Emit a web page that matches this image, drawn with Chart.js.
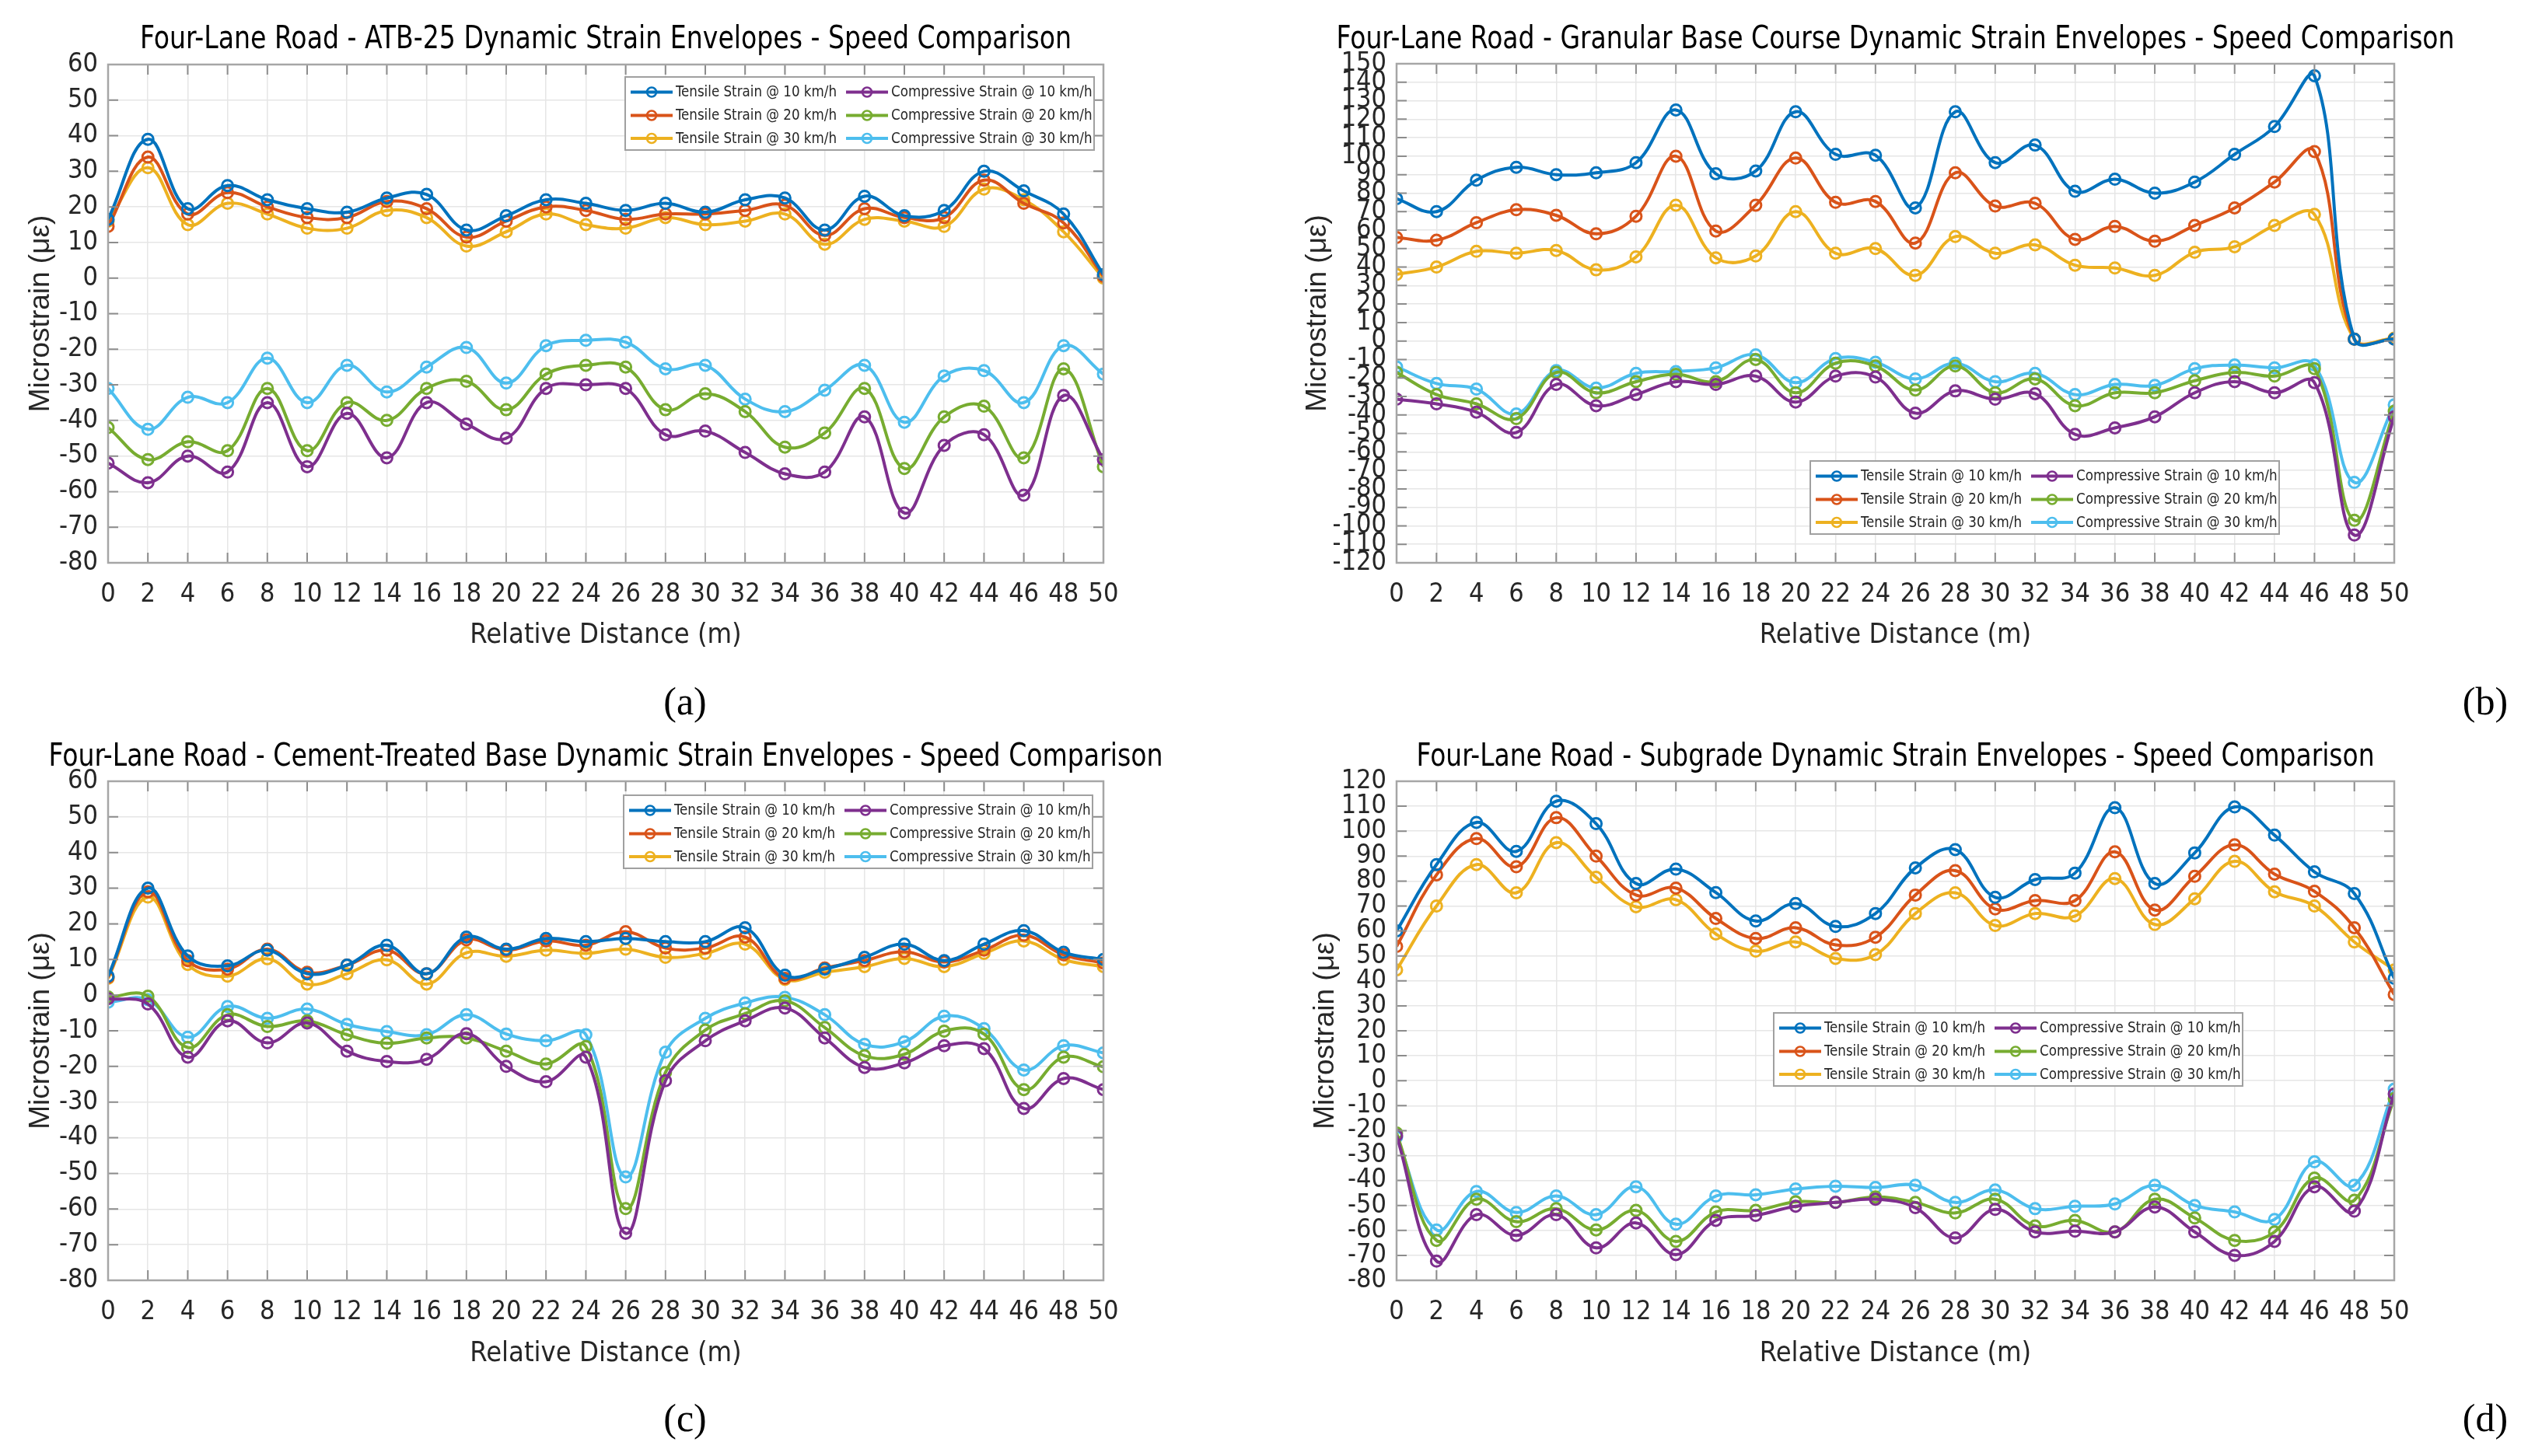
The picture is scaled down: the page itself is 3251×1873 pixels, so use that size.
<!DOCTYPE html>
<html><head><meta charset="utf-8">
<script src="https://cdn.jsdelivr.net/npm/chart.js@4.4.1/dist/chart.umd.min.js"></script>
<style>
html,body{margin:0;padding:0;background:#fff;}
body{width:3251px;height:1873px;position:relative;overflow:hidden;}
canvas{position:absolute;}
.lbl{position:absolute;font-family:"Liberation Serif","DejaVu Serif",serif;font-size:50px;color:#000;transform:translate(-50%,-50%);line-height:1;}
</style></head><body>
<canvas id="ca"></canvas><canvas id="cb"></canvas><canvas id="cc"></canvas><canvas id="cd"></canvas>
<div class="lbl" style="left:881px;top:902px">(a)</div>
<div class="lbl" style="left:3196px;top:902px">(b)</div>
<div class="lbl" style="left:881px;top:1824px">(c)</div>
<div class="lbl" style="left:3196px;top:1824px">(d)</div>
<script>
// ---------- data ----------
const distance = [0,2,4,6,8,10,12,14,16,18,20,22,24,26,28,30,32,34,36,38,40,42,44,46,48,50];
const seriesNames = ['Tensile Strain @ 10 km/h','Tensile Strain @ 20 km/h','Tensile Strain @ 30 km/h',
                     'Compressive Strain @ 10 km/h','Compressive Strain @ 20 km/h','Compressive Strain @ 30 km/h'];
const seriesColors = ['#0072BD','#D95319','#EDB120','#7E2F8E','#77AC30','#4DBEEE'];

const panelTitles = [
  'Four-Lane Road - ATB-25 Dynamic Strain Envelopes - Speed Comparison',
  'Four-Lane Road - Granular Base Course Dynamic Strain Envelopes - Speed Comparison',
  'Four-Lane Road - Cement-Treated Base Dynamic Strain Envelopes - Speed Comparison',
  'Four-Lane Road - Subgrade Dynamic Strain Envelopes - Speed Comparison'];
const xAxisTitle = 'Relative Distance (m)';
const yAxisTitle = 'Microstrain (με)';
const xTickRange = [0, 50, 2];
const aYTickRange = [-80, 60, 10];
const bYTickRange = [-120, 150, 10];
const cYTickRange = [-80, 60, 10];
const dYTickRange = [-80, 120, 10];

// (a) ATB-25
const aTen10 = [16.5,39,19.5,26,22,19.5,18.5,22.5,23.5,13.5,17.5,22,21,19,21,18.5,22,22.5,13.5,23,17.5,19,30,24.5,18,1];
const aTen20 = [14.5,34,18,24,20,17,17,21.5,19.5,11.5,16,20,19,16.5,18,18,19,20.5,12,19.5,17,17,27.5,21,15.5,0.5];
const aTen30 = [16,31,15,21,18,14,14,19,17,9,13,18,15,14,17,15,16,18,9.5,16.5,16,14.5,25,22,13,0];
const aCom10 = [-52,-57.5,-50,-54.5,-35,-53,-38,-50.5,-35,-41,-45,-31,-30,-31,-44,-43,-49,-55,-54.5,-39,-66,-47,-44,-61,-33,-51];
const aCom20 = [-42,-51,-46,-48.5,-31,-48.5,-35,-40,-31,-29,-37,-27,-24.5,-25,-37,-32.5,-37.5,-47.5,-43.5,-31,-53.5,-39,-36,-50.5,-25.5,-53];
const aCom30 = [-31,-42.5,-33.5,-35,-22.5,-35,-24.5,-32,-25,-19.5,-29.5,-19,-17.5,-18,-25.5,-24.5,-34,-37.5,-31.5,-24.5,-40.5,-27.5,-26,-35,-19,-27];

// (b) Granular Base Course
const bTen10 = [77,70,87,94,90,91,96.5,125,90.5,92,124,101,100.5,72,124,96.5,106,81,87.5,80,86,101,116,143.5,1,1];
const bTen20 = [56,54.5,64,71,68,58,67.5,100,59.5,73.5,99,75,75.5,53,91,73,74.5,55,62,54,62.5,72,86,102.5,1,1];
const bTen30 = [36,40,48.5,47.5,49,38.5,45.5,73.5,45,46,70,47.5,50,35.5,56.5,47.5,52,41,39.5,35.5,48,51,62.5,68.5,1,1.5];
const bCom10 = [-31.5,-34,-38.5,-49.5,-23.5,-35,-29,-22,-23.5,-19,-33,-19,-19.5,-39,-27,-31.5,-28.5,-50.5,-47,-41,-28,-22,-28,-22.5,-105,-41];
const bCom20 = [-17,-29,-34,-42,-17,-28,-22,-18,-22,-10,-28,-12,-13.5,-26.5,-13.5,-28,-20.5,-35,-28,-28,-21.5,-17,-19,-15,-97,-38];
const bCom30 = [-14,-23,-26,-39.5,-16,-25.5,-17.5,-16.5,-14.5,-7.5,-22.5,-9.5,-11.5,-20.5,-12,-22,-17.5,-29,-23.5,-24,-15,-13,-14.5,-13,-76.5,-34.5];

// (c) Cement-Treated Base
const cTen10 = [5.3,30,11,8.2,12.6,6,8.4,14,6,16.3,12.9,15.9,15,15.9,15,15,18.9,5.6,7.3,10.6,14.3,9.7,14.3,18.1,12,10];
const cTen20 = [5,29,9.7,7.3,12.9,6.4,8.4,12.6,6,15.5,12.6,15.2,14,17.8,13.2,13.2,16.3,4.7,7.6,9.7,12.2,9.3,12.6,16.8,11.3,9];
const cTen30 = [4.7,27.5,8.6,5.3,10.2,3.1,6,9.9,3.1,11.9,10.9,12.6,11.7,12.9,10.6,11.7,14.3,4.4,6.4,8,10.3,8,11.7,15.2,10,8];
const cCom10 = [-1,-2.5,-17.4,-7.2,-13.4,-7.8,-15.7,-18.6,-18,-10.8,-20,-24.3,-17.4,-66.8,-24,-12.8,-7.2,-3.6,-12,-20.3,-19,-14.2,-15,-31.8,-23.4,-26.5];
const cCom20 = [-0.5,-0.3,-14.7,-5.5,-8.8,-7.2,-11.1,-13.5,-12,-12,-15.7,-19.3,-14.4,-59.9,-21.7,-9.8,-5.2,-1.6,-9.1,-17,-16.6,-10.1,-10.9,-26.5,-17.4,-20.1];
const cCom30 = [-2,-1.3,-11.8,-3.2,-6.5,-3.9,-8.2,-10.2,-11.1,-5.5,-10.9,-12.8,-11.1,-51,-16,-6.5,-2.2,-0.6,-5.5,-13.8,-13.1,-5.9,-9.4,-21,-14.2,-16.2];

// (d) Subgrade
const dTen10 = [60,86.6,103.5,91.9,112,103,79,84.8,75.4,64,71,61.8,67,85.3,92.6,73.5,80.6,83.2,109.4,79,91.3,109.7,98.4,83.7,75,41];
const dTen20 = [53.8,82.5,97,85.7,105.4,90,74.4,77.2,65,57,61.3,54.4,57.5,74.4,84.2,68.8,72.2,72.2,91.7,68.4,81.9,94.5,82.8,75.9,61.3,34.5];
const dTen30 = [44.4,70,86.6,75.3,95.4,81.5,69.7,72.5,58.8,51.9,55.6,49,50.5,67,75.3,62.2,67,66,81,62.6,72.9,87.9,75.7,70,55.6,44.4];
const dCom10 = [-22,-72.3,-53.7,-62,-53.7,-67,-57,-69.7,-56,-54,-50.3,-48.8,-47.5,-50.9,-63,-51.6,-60.6,-60.3,-60.6,-50.6,-60.6,-70,-64.4,-42.5,-52.3,-5.3];
const dCom20 = [-21,-64,-47.5,-56.5,-51.3,-59.8,-52,-64.4,-52.6,-52,-48.5,-48.8,-46.6,-48.8,-53,-47.5,-58.2,-56,-60.6,-47.5,-55,-64,-60.6,-39,-47.9,-7.2];
const dCom30 = [-22.6,-59.8,-44.4,-52.8,-46.2,-53.7,-42.5,-57.5,-46.2,-45.7,-43.4,-42.3,-42.8,-41.9,-48.8,-43.8,-51.3,-50.3,-49.4,-41.9,-50,-52.6,-55.6,-32.5,-41.9,-3.4];

// ---------- layout (positions / styles) ----------
const NARROW = '"Liberation Sans Narrow","Arial Narrow","DejaVu Sans Condensed",sans-serif';
const WIDE = '"Liberation Sans",Arial,sans-serif';
const panels = [
  {id:'ca', left:0,    top:0,   w:1558, h:880, area:{l:139,t:83,r:1419,b:724}, ytitleX:53, titleY:52, titleW:1198, xtitleY:818,
   series:[aTen10,aTen20,aTen30,aCom10,aCom20,aCom30], yr:aYTickRange, leg:{fx:0.5195,fy:0.025}},
  {id:'cb', left:1630, top:0,   w:1615, h:880, area:{l:166,t:82,r:1449,b:724}, ytitleX:65, titleY:52, titleW:1438, xtitleY:818,
   series:[bTen10,bTen20,bTen30,bCom10,bCom20,bCom30], yr:bYTickRange, leg:{fx:0.4146,fy:0.796}},
  {id:'cc', left:0,    top:930, w:1558, h:880, area:{l:139,t:75,r:1419,b:717}, ytitleX:53, titleY:45, titleW:1433, xtitleY:812,
   series:[cTen10,cTen20,cTen30,cCom10,cCom20,cCom30], yr:cYTickRange, leg:{fx:0.518,fy:0.028}},
  {id:'cd', left:1630, top:930, w:1615, h:880, area:{l:166,t:75,r:1449,b:717}, ytitleX:75, titleY:45, titleW:1232, xtitleY:812,
   series:[dTen10,dTen20,dTen30,dCom10,dCom20,dCom30], yr:dYTickRange, leg:{fx:0.378,fy:0.464}}
];

// text drawn condensed to the reference width (MATLAB narrow font look)
function drawFitText(ctx, text, x, y, font, targetW, align){
  ctx.font = font;
  const w = ctx.measureText(text).width;
  const sx = targetW / w;
  ctx.save();
  ctx.translate(x, y);
  ctx.scale(sx, 1);
  ctx.textAlign = align; ctx.textBaseline = 'middle';
  ctx.fillText(text, 0, 0);
  ctx.restore();
}

const centeredTitle = {
  id:'centeredTitle',
  afterDraw(chart, args, o){
    const {ctx, chartArea:a} = chart;
    ctx.save();
    ctx.fillStyle = '#000';
    drawFitText(ctx, o.text, (a.left+a.right)/2, o.y, o.font, o.width, 'center');
    ctx.restore();
  }
};

const frameTicks = {
  id:'frameTicks',
  afterDatasetsDraw(chart){
    const {ctx, chartArea:a, scales} = chart;
    ctx.save();
    ctx.strokeStyle = '#8c8c8c'; ctx.lineWidth = 2;
    const L = 13;
    ctx.beginPath();
    scales.x.ticks.forEach(t=>{
      const px = scales.x.getPixelForValue(t.value);
      ctx.moveTo(px,a.bottom); ctx.lineTo(px,a.bottom-L);
      ctx.moveTo(px,a.top); ctx.lineTo(px,a.top+L);
    });
    scales.y.ticks.forEach(t=>{
      const py = scales.y.getPixelForValue(t.value);
      ctx.moveTo(a.left,py); ctx.lineTo(a.left+L,py);
      ctx.moveTo(a.right,py); ctx.lineTo(a.right-L,py);
    });
    ctx.stroke();
    ctx.strokeStyle = '#a6a6a6'; ctx.lineWidth = 2.5;
    ctx.strokeRect(a.left, a.top, a.right-a.left, a.bottom-a.top);
    ctx.restore();
  }
};

const boxLegend = {
  id:'boxLegend',
  afterDraw(chart, args, o){
    const {ctx, chartArea:a} = chart;
    const bx = Math.round(a.left + o.fx*(a.right-a.left));
    const by = Math.round(a.top + o.fy*(a.bottom-a.top));
    ctx.save();
    ctx.fillStyle = '#fff'; ctx.fillRect(bx,by,o.width,o.height);
    ctx.strokeStyle = '#a0a0a0'; ctx.lineWidth = 2; ctx.strokeRect(bx,by,o.width,o.height);
    ctx.font = o.font;
    const sx = o.refTextW / ctx.measureText(chart.data.datasets[0].label).width;
    chart.data.datasets.forEach((ds,i)=>{
      const col = Math.floor(i/3), row = i%3;
      const x0 = bx + o.colX[col], y = by + o.rowY[row];
      ctx.strokeStyle = ds.borderColor; ctx.lineWidth = 4;
      ctx.beginPath(); ctx.moveTo(x0,y); ctx.lineTo(x0+o.sample,y); ctx.stroke();
      ctx.lineWidth = 2.5;
      ctx.beginPath(); ctx.arc(x0+o.sample/2,y,6,0,Math.PI*2); ctx.stroke();
      ctx.fillStyle = '#262626';
      ctx.save();
      ctx.translate(x0+o.sample+4, y+1); ctx.scale(sx,1);
      ctx.font = o.font; ctx.textAlign = 'left'; ctx.textBaseline = 'middle';
      ctx.fillText(ds.label, 0, 0);
      ctx.restore();
    });
    ctx.restore();
  }
};

panels.forEach((p,pi)=>{
  const cv = document.getElementById(p.id);
  cv.width = p.w; cv.height = p.h;
  cv.style.left = p.left+'px'; cv.style.top = p.top+'px';
  cv.style.width = p.w+'px'; cv.style.height = p.h+'px';
  const xtFont = 36, xtLH = xtFont*1.2;
  const datasets = p.series.map((vals,i)=>({
    label: seriesNames[i],
    data: distance.map((x,k)=>({x:x, y:vals[k]})),
    borderColor: seriesColors[i],
    backgroundColor: seriesColors[i],
    pointBorderColor: seriesColors[i],
    pointBackgroundColor: 'rgba(255,255,255,0)',
    borderWidth: 4,
    pointRadius: 7,
    pointBorderWidth: 3,
    tension: 0.4,
    fill: false
  }));
  new Chart(cv, {
    type:'line',
    data:{datasets},
    plugins:[frameTicks, boxLegend, centeredTitle],
    options:{
      responsive:false, animation:false, devicePixelRatio:1,
      layout:{padding:{left:0, right:p.w-p.area.r, top:p.area.t, bottom:0}},
      plugins:{
        legend:{display:false},
        tooltip:{enabled:false},
        title:{display:false},
        centeredTitle:{text:panelTitles[pi], y:p.titleY, width:p.titleW, font:'40px '+NARROW},
        boxLegend:{fx:p.leg.fx, fy:p.leg.fy, width:603, height:94, colX:[7,284], rowY:[19.5,49.5,79],
                   sample:54, font:'19px '+NARROW, refTextW:207}
      },
      scales:{
        x:{type:'linear', min:xTickRange[0], max:xTickRange[1],
           ticks:{stepSize:xTickRange[2], autoSkip:false, maxRotation:0, color:'#262626', padding:21,
                  font:{family:NARROW, size:34}},
           grid:{color:'#e6e6e6', lineWidth:1.5, drawTicks:false},
           border:{display:false},
           title:{display:true, text:xAxisTitle, color:'#262626',
                  font:{family:NARROW, size:xtFont, lineHeight:1.2}, padding:{top:0,bottom:p.h-p.xtitleY-xtLH/2}},
           afterFit:(s)=>{s.height = p.h - p.area.b;}},
        y:{type:'linear', min:p.yr[0], max:p.yr[1],
           ticks:{stepSize:p.yr[2], autoSkip:false, color:'#262626', padding:13,
                  font:{family:NARROW, size:34}},
           grid:{color:'#e6e6e6', lineWidth:1.5, drawTicks:false},
           border:{display:false},
           title:{display:true, text:yAxisTitle, color:'#262626',
                  font:{family:WIDE, size:37, lineHeight:1.2}, padding:{top:p.ytitleX-22.2, bottom:0}},
           afterFit:(s)=>{s.width = p.area.l;}}
      }
    }
  });
});
</script>
</body></html>
